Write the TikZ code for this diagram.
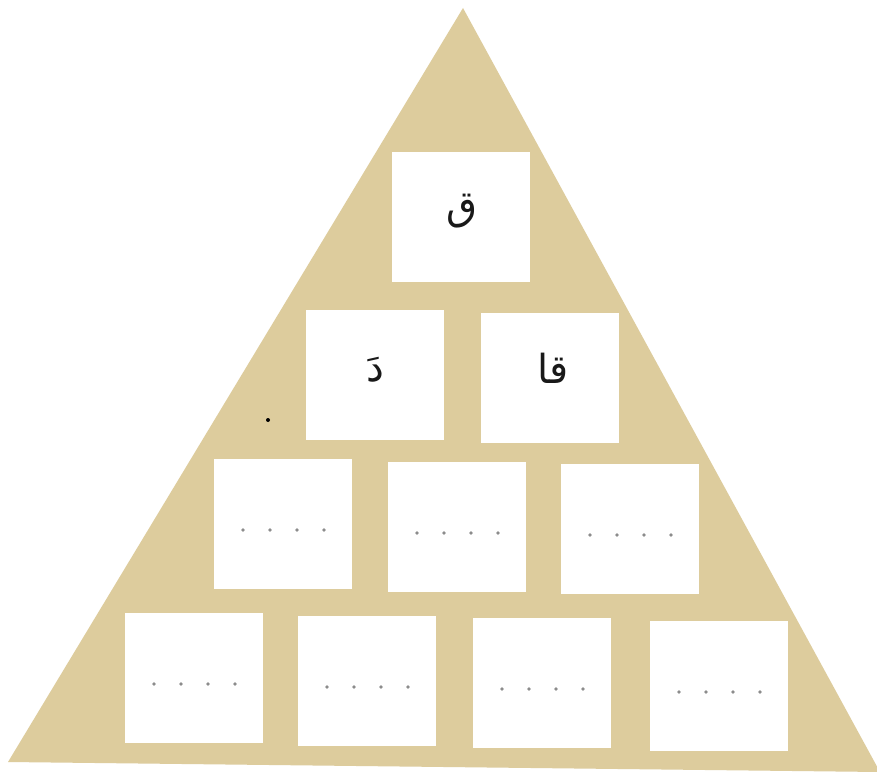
\documentclass[tikz,border=0pt]{standalone}
\usepackage{fontspec}
\usetikzlibrary{calc}
\TeXXeTstate=1
\newfontfamily\arabicfont[Script=Arabic]{DejaVu Sans}
\definecolor{pyrtan}{RGB}{221,204,157}
\definecolor{dotgrey}{RGB}{140,140,140}
\tikzset{
  box/.style={fill=white, draw=none, inner sep=0pt, minimum width=104pt, minimum height=97.5pt},
  letter/.style={font=\arabicfont\fontsize{30}{34}\selectfont, text=black!90},
  gapdot/.style={fill=dotgrey, draw=none}
}
\begin{document}
\begin{tikzpicture}[x=0.75pt,y=-0.75pt]
\useasboundingbox (0,0) rectangle (877,780);
\fill[white] (0,0) rectangle (877,780);
% triangle
\fill[pyrtan] (463,8) -- (880,772) -- (8,762) -- cycle;
% boxes
\node[box] (b11) at (461,217) {};
\node[box] (b21) at (375,375) {};
\node[box] (b22) at (550,378) {};
\node[box] (b31) at (283,524) {};
\node[box] (b32) at (457,527) {};
\node[box] (b33) at (630,529) {};
\node[box] (b41) at (194,678) {};
\node[box] (b42) at (367,681) {};
\node[box] (b43) at (542,683) {};
\node[box] (b44) at (719,686) {};
% letters
\node[letter] (t11) at (462,211) {\beginR ق\endR};
\node[letter] (t21) at (375,370) {\beginR دَ\endR};
\node[letter] (t22) at (553,368) {\beginR قا\endR};
% dotted blanks
\foreach \b in {b31,b32,b33,b41,b42,b43,b44}{
  \foreach \k in {0,1,2,3}{
    \fill[gapdot] ($(\b.center)+(-40+27*\k,6)$) circle (1.9);
  }
}
% stray mark
\fill[black] (268,420) circle (2);
\end{tikzpicture}
\end{document}
